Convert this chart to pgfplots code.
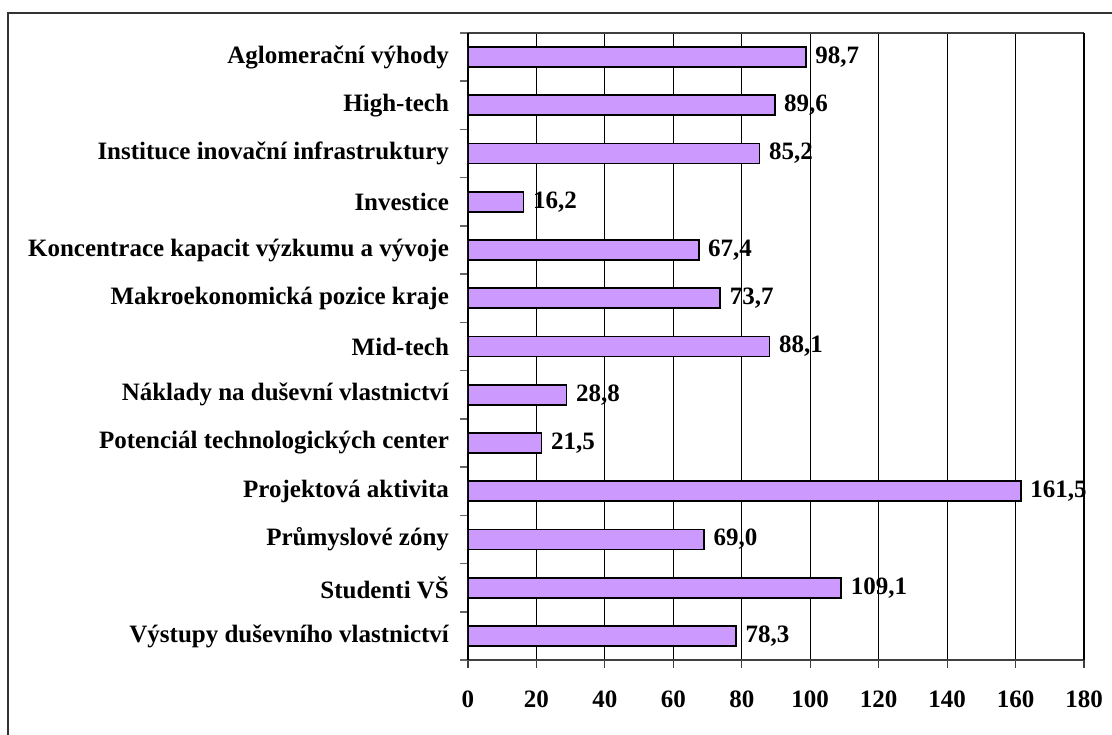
\documentclass[border=0pt]{standalone}
\usepackage{pgfplots}
\pgfplotsset{compat=1.18}
\usepackage{fontspec}
\setmainfont{Liberation Serif}
\definecolor{barfill}{HTML}{CC99FF}
\newcommand{\lbl}{\fontsize{12.5}{15}\selectfont\bfseries}
\begin{document}
\begin{tikzpicture}
\begin{axis}[
  scale only axis, width=308pt, height=313.5pt,
  at={(0,0)}, anchor=south west,
  xbar, bar width=10pt,
  xmin=0, xmax=180, ymin=-0.5, ymax=12.5, y dir=reverse,
  xtick={0,20,...,180}, xmajorgrids,
  grid style={black, line width=0.5pt},
  ytick={-0.5,0.5,...,12.5}, yticklabels={},
  extra y ticks={0,1,...,12},
  extra y tick labels={Aglomerační výhody, High-tech, Instituce inovační infrastruktury, Investice, Koncentrace kapacit výzkumu a vývoje, Makroekonomická pozice kraje, Mid-tech, Náklady na duševní vlastnictví, Potenciál technologických center, Projektová aktivita, Průmyslové zóny, Studenti VŠ, Výstupy duševního vlastnictví},
  extra y tick style={major tick length=0pt, tick style={draw=none}},
  tick align=outside, xtick pos=bottom, ytick pos=left,
  major tick length=4pt,
  separate axis lines,
  x axis line style={draw=black!75, line width=1pt},
  y axis line style={draw=black, line width=0.8pt},
  y tick style={draw=black!60, line width=0.8pt},
  x tick style={draw=black!75, line width=0.6pt},
  ticklabel style={font=\lbl},
  xticklabel style={yshift=-8pt},
  yticklabel style={xshift=-6pt},
  /pgf/number format/assume math mode=true,
  point meta=x,
  nodes near coords={\pgfmathprintnumber[fixed,fixed zerofill,precision=1,use comma,assume math mode=true]{\pgfplotspointmeta}},
  every node near coord/.append style={font=\lbl, anchor=west, xshift=1pt},
]
\addplot[draw=black, line width=0.9pt, fill=barfill] coordinates {
  (98.7,0) (89.6,1) (85.2,2) (16.2,3) (67.4,4) (73.7,5) (88.1,6)
  (28.8,7) (21.5,8) (161.5,9) (69.0,10) (109.1,11) (78.3,12)
};
\end{axis}
\pgfresetboundingbox
\useasboundingbox (-234pt,-37pt) rectangle (322pt,330pt);
\draw[black!80, line width=0.8pt] (-230pt,-45pt) -- (-230pt,323.5pt) -- (330pt,323.5pt);
\end{tikzpicture}
\end{document}
